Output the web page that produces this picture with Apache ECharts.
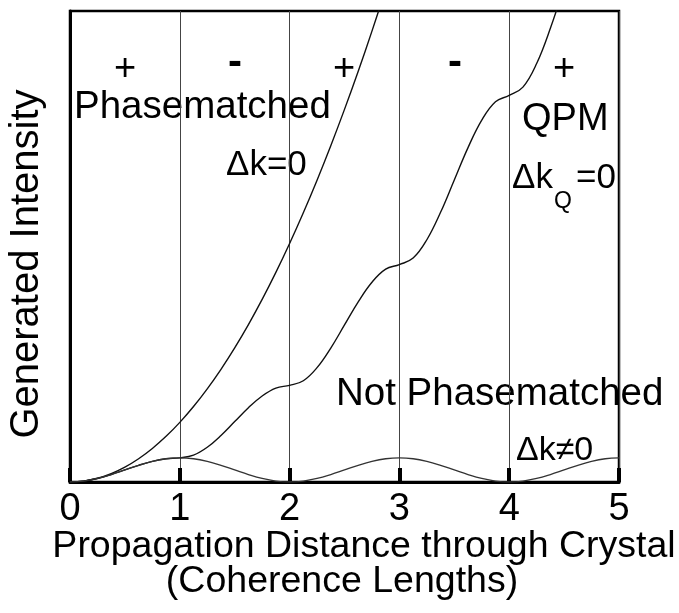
<!DOCTYPE html>
<html>
<head>
<meta charset="utf-8">
<script src="https://cdn.jsdelivr.net/npm/echarts@6/dist/echarts.min.js"></script>
<style>
html,body{margin:0;padding:0;background:#fff;}
#c{width:679px;height:613px;}
</style>
</head>
<body>
<div id="c"></div>
<script>
// x positions (coherence lengths)
var xs = [0,0.125,0.25,0.375,0.5,0.625,0.75,0.875,1,1.125,1.25,1.375,1.5,1.625,1.75,1.875,2,
          2.125,2.25,2.375,2.5,2.625,2.75,2.875,3,3.125,3.25,3.375,3.5,3.625,3.75,3.875,4,
          4.125,4.25,4.375,4.5,4.625,4.75,4.875,5];
var xTickLabels = ['0','1','2','3','4','5'];

// Phasematched (dk = 0)
var phasematched = [0,0.0156,0.0625,0.1406,0.25,0.3906,0.5625,0.7656,1.0,1.2656,1.5625,1.8906,2.25,
                    2.6406,3.0625,3.5156,4.0,4.5156,5.0625,5.6406,6.25,6.8906,7.5625,8.2656];
// QPM (dk_Q = 0)
var qpm = [0,0.0154,0.0593,0.1251,0.2026,0.2802,0.3459,0.3899,0.4053,
           0.4515,0.5833,0.7806,1.0132,1.2459,1.4431,1.5749,1.6211,
           1.6982,1.9179,2.2466,2.6343,3.0221,3.3508,3.5704,3.6475,
           3.7555,4.0630,4.5232,5.0660,5.6089,6.0690,6.3766,6.4846,
           6.6234,7.0187,7.6104,8.3083];
// Not phasematched (dk != 0)
var notPhasematched = [0,0.0154,0.0593,0.1251,0.2026,0.2802,0.3459,0.3899,0.4053,
                       0.3899,0.3459,0.2802,0.2026,0.1251,0.0593,0.0154,0,
                       0.0154,0.0593,0.1251,0.2026,0.2802,0.3459,0.3899,0.4053,
                       0.3899,0.3459,0.2802,0.2026,0.1251,0.0593,0.0154,0,
                       0.0154,0.0593,0.1251,0.2026,0.2802,0.3459,0.3899,0.4053];

var signs = ['+','-','+','-','+'];

function pairs(vals){ return vals.map(function(v,i){ return [xs[i], v]; }); }

var FONT = '"Liberation Sans", Arial, Helvetica, sans-serif';
var chart = echarts.init(document.getElementById('c'), null, {renderer:'canvas'});

var lineStyle = {color:'#111', width:1.4};

var graphics = [];
var signX = [125, 235, 344, 455, 564];
signs.forEach(function(s,i){
  graphics.push({type:'text', x: signX[i], y: s==='+'?70:63,
    style:{text:s, font:(s==='+'?'normal 38px ':'bold 42px ')+FONT, fill:'#000', textAlign:'center', textVerticalAlign:'middle'}});
});
function txt(t, x, y, size, align){
  graphics.push({type:'text', x:x, y:y,
    style:{text:t, font:'normal '+size+'px '+FONT, fill:'#000', textVerticalAlign:'middle', textAlign:align||'left'}});
}
txt('Phasematched', 74, 107, 38.5);
txt('\u0394k=0', 226, 165, 35);
txt('QPM', 522, 120, 38);
txt('Not Phasematched', 336, 394, 38.5);
txt('\u0394k\u22600', 516, 451, 34);
txt('\u0394k', 512, 178, 35);
txt('Q', 554, 202, 23);
txt('=0', 576, 178, 35);
// axis titles
txt('Propagation Distance through Crystal', 364, 547, 37.5, 'center');
txt('(Coherence Lengths)', 342, 582, 37.5, 'center');
graphics.push({type:'text', x:27, y:264, rotation:Math.PI/2,
  style:{text:'Generated Intensity', font:'normal 40px '+FONT, fill:'#000', textAlign:'center', textVerticalAlign:'middle'}});

chart.setOption({
  backgroundColor:'#fff',
  animation:false,
  grid:{left:70, right:60, top:11, bottom:131, show:true, borderColor:'#000', borderWidth:2.5, backgroundColor:'transparent'},
  xAxis:{type:'value', min:0, max:5, interval:1,
    axisLine:{show:true, onZero:false, lineStyle:{color:'#000', width:3}},
    axisTick:{show:true, inside:true, length:14, lineStyle:{color:'#000', width:4}},
    axisLabel:{fontSize:38, color:'#000', fontFamily:FONT, margin:9,
      formatter:function(v){ return xTickLabels[Math.round(v)]; }},
    splitLine:{show:true, lineStyle:{color:'#444', width:1}}
  },
  yAxis:{type:'value', min:0, max:7.9,
    axisLine:{show:true, lineStyle:{color:'#000', width:3}},
    axisTick:{show:false}, axisLabel:{show:false}, splitLine:{show:false}
  },
  series:[
    {type:'line', name:'Phasematched', data:pairs(phasematched), smooth:0.4, showSymbol:false, clip:true, lineStyle:lineStyle},
    {type:'line', name:'QPM', data:pairs(qpm), smooth:0.4, showSymbol:false, clip:true, lineStyle:lineStyle},
    {type:'line', name:'Not Phasematched', data:pairs(notPhasematched), smooth:0.4, showSymbol:false, clip:true, lineStyle:{color:'#333', width:1.3}}
  ],
  graphic:graphics
});
</script>
</body>
</html>
